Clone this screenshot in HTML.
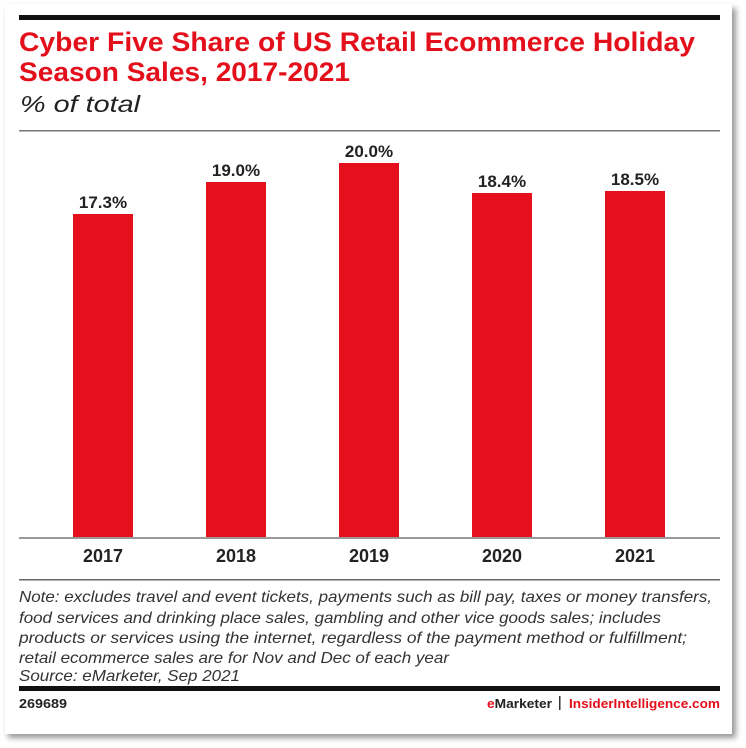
<!DOCTYPE html>
<html><head><style>
html,body{margin:0;padding:0;background:#fff;}
svg{display:block;}
text{font-family:"Liberation Sans",Arial,sans-serif;}
</style></head><body>
<svg width="746" height="748" viewBox="0 0 746 748" xmlns="http://www.w3.org/2000/svg">
<defs>
<filter id="sh" x="-5%" y="-5%" width="110%" height="110%"><feGaussianBlur stdDeviation="3"/></filter>
</defs>
<rect x="8" y="8" width="728" height="730" fill="#999" filter="url(#sh)"/>
<rect x="5" y="4" width="727" height="730" fill="#fff"/>
<rect x="19" y="15" width="701" height="5" fill="#111"/>
<text x="19" y="51" font-size="27" font-weight="bold" fill="#e3101c" textLength="676" lengthAdjust="spacingAndGlyphs">Cyber Five Share of US Retail Ecommerce Holiday</text>
<text x="19" y="81" font-size="27" font-weight="bold" fill="#e3101c" textLength="331" lengthAdjust="spacingAndGlyphs">Season Sales, 2017-2021</text>
<text x="20" y="112" font-size="23" font-style="italic" fill="#222" textLength="120" lengthAdjust="spacingAndGlyphs">% of total</text>
<rect x="19" y="130" width="701" height="1.5" fill="#777"/>
<g fill="#e5101c">
<rect x="73" y="214" width="60" height="324"/>
<rect x="206" y="182" width="60" height="356"/>
<rect x="339" y="163" width="60" height="375"/>
<rect x="472" y="193" width="60" height="345"/>
<rect x="605" y="191" width="60" height="347"/>
</g>
<g font-size="17" font-weight="bold" fill="#222" text-anchor="middle">
<text x="103" y="208">17.3%</text>
<text x="236" y="176">19.0%</text>
<text x="369" y="157">20.0%</text>
<text x="502" y="187">18.4%</text>
<text x="635" y="185">18.5%</text>
</g>
<rect x="19" y="537" width="701" height="2" fill="#999"/>
<g font-size="18" font-weight="bold" fill="#222" text-anchor="middle">
<text x="103" y="562">2017</text>
<text x="236" y="562">2018</text>
<text x="369" y="562">2019</text>
<text x="502" y="562">2020</text>
<text x="635" y="562">2021</text>
</g>
<rect x="19" y="579" width="701" height="1.5" fill="#666"/>
<g font-size="16" font-style="italic" fill="#333">
<text x="19" y="602" textLength="693" lengthAdjust="spacingAndGlyphs">Note: excludes travel and event tickets, payments such as bill pay, taxes or money transfers,</text>
<text x="19" y="623" textLength="642" lengthAdjust="spacingAndGlyphs">food services and drinking place sales, gambling and other vice goods sales; includes</text>
<text x="19" y="643" textLength="668" lengthAdjust="spacingAndGlyphs">products or services using the internet, regardless of the payment method or fulfillment;</text>
<text x="19" y="663" textLength="430" lengthAdjust="spacingAndGlyphs">retail ecommerce sales are for Nov and Dec of each year</text>
<text x="19" y="681" textLength="221" lengthAdjust="spacingAndGlyphs">Source: eMarketer, Sep 2021</text>
</g>
<rect x="19" y="686" width="701" height="5" fill="#111"/>
<text x="19" y="708" font-size="13" font-weight="bold" fill="#222" textLength="48" lengthAdjust="spacingAndGlyphs">269689</text>
<text x="487" y="708" font-size="13" font-weight="bold" fill="#222" textLength="65" lengthAdjust="spacingAndGlyphs"><tspan fill="#e3101c">e</tspan>Marketer</text>
<rect x="559" y="696" width="1.5" height="14" fill="#333"/>
<text x="569" y="708" font-size="13" font-weight="bold" fill="#e3101c" textLength="151" lengthAdjust="spacingAndGlyphs">InsiderIntelligence.com</text>
</svg>
</body></html>
